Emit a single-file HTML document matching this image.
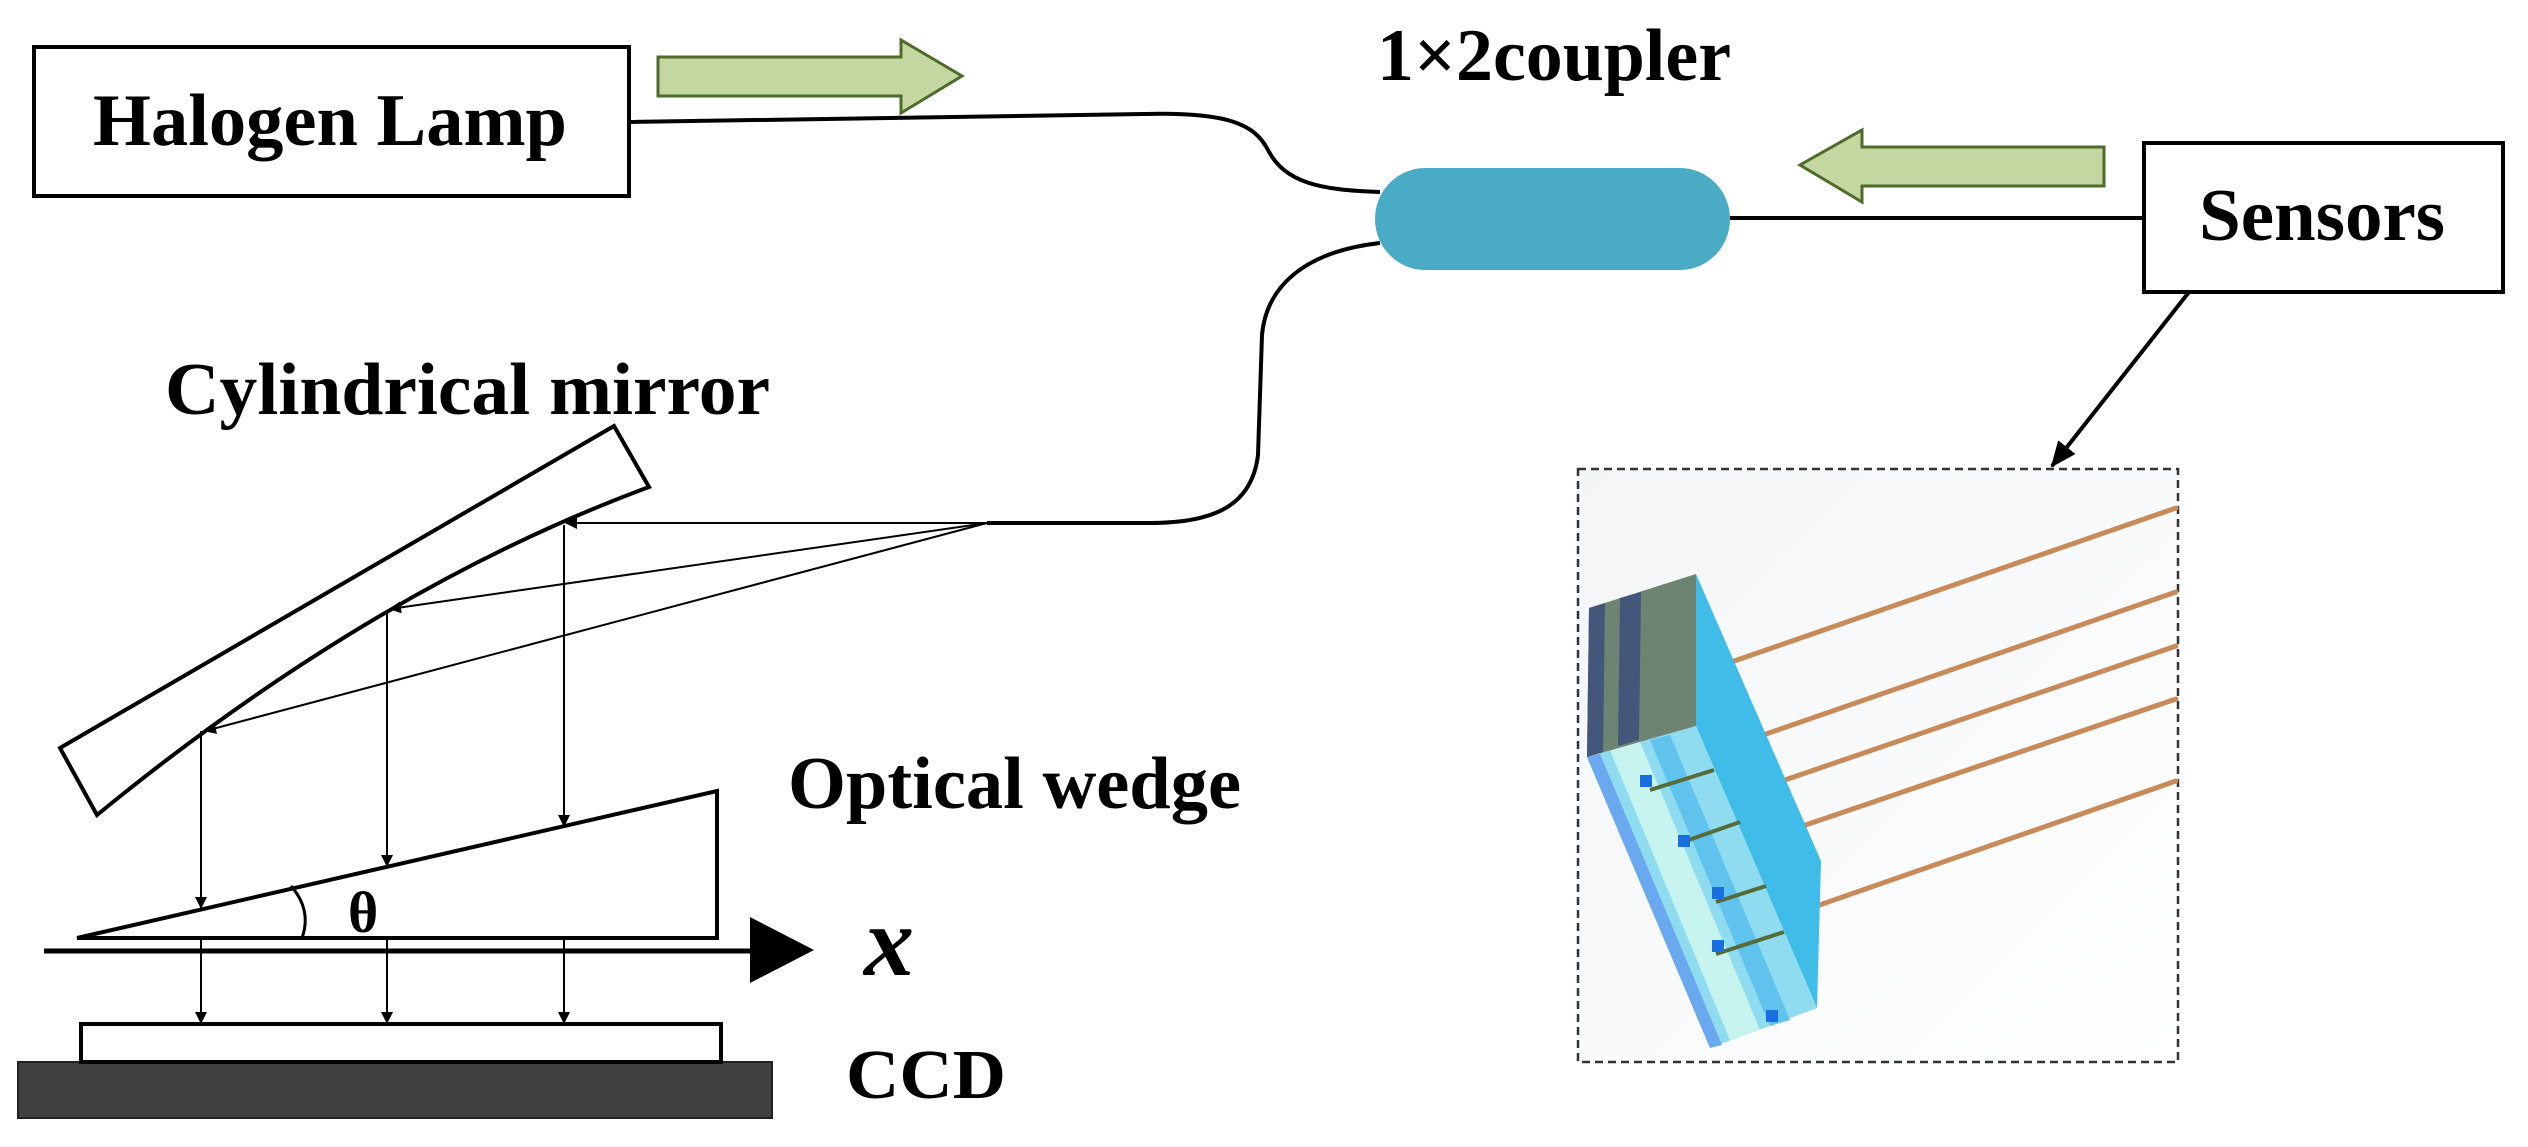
<!DOCTYPE html>
<html><head><meta charset="utf-8"><style>
html,body{margin:0;padding:0;background:#fff;}
svg{display:block;}
text{font-family:"Liberation Serif",serif;font-weight:bold;fill:#000;}
</style></head><body>
<svg width="2528" height="1147" viewBox="0 0 2528 1147" xmlns="http://www.w3.org/2000/svg">
<defs>
<marker id="ah" markerWidth="12" markerHeight="12" refX="11" refY="6" orient="auto" markerUnits="userSpaceOnUse">
<path d="M0,0 L12,6 L0,12 Z" fill="#000"/></marker>
<marker id="ah2" markerWidth="26" markerHeight="22" refX="24" refY="11" orient="auto" markerUnits="userSpaceOnUse">
<path d="M0,0 L26,11 L0,22 Z" fill="#000"/></marker>
<linearGradient id="bg" x1="0" y1="0" x2="1" y2="1"><stop offset="0" stop-color="#f3f5f7"/><stop offset="1" stop-color="#ffffff"/></linearGradient>
</defs>

<rect x="34" y="47" width="595" height="149" fill="#fff" stroke="#000" stroke-width="4"/>
<text x="93" y="145" font-size="74" textLength="474" lengthAdjust="spacingAndGlyphs">Halogen Lamp</text>

<path d="M658,57 L901,57 L901,40 L962,76 L901,113 L901,96 L658,96 Z" fill="#c5d7a1" stroke="#4f6b2a" stroke-width="3"/>
<path d="M2104,147 L1862,147 L1862,130 L1800,165 L1862,202 L1862,186 L2104,186 Z" fill="#c5d7a1" stroke="#4f6b2a" stroke-width="3"/>

<path d="M629,122 L1145,114 C1230,112 1255,125 1268,150 C1285,183 1320,190 1380,192" fill="none" stroke="#000" stroke-width="4"/>
<path d="M1380,243 C1300,252 1266,290 1262,335 L1258,455 C1252,505 1215,523 1150,523 L987,523" fill="none" stroke="#000" stroke-width="4"/>
<line x1="1730" y1="218" x2="2144" y2="218" stroke="#000" stroke-width="4"/>

<rect x="1375" y="168" width="355" height="102" rx="50" ry="51" fill="#4aabc5"/>
<text x="1377" y="80" font-size="74" textLength="354" lengthAdjust="spacingAndGlyphs">1×2coupler</text>

<rect x="2144" y="143" width="359" height="149" fill="#fff" stroke="#000" stroke-width="4"/>
<text x="2199" y="240" font-size="74" textLength="246" lengthAdjust="spacingAndGlyphs">Sensors</text>
<line x1="2189" y1="292" x2="2052" y2="466" stroke="#000" stroke-width="4" marker-end="url(#ah2)"/>

<rect x="1578" y="469" width="600" height="593" fill="url(#bg)" stroke="#333" stroke-width="2.5" stroke-dasharray="8,5"/>
<g stroke="#c98a5a" stroke-width="5" stroke-linecap="round">
<line x1="1714" y1="668" x2="2176" y2="508"/>
<line x1="1714" y1="752" x2="2176" y2="592"/>
<line x1="1750" y1="792" x2="2176" y2="646"/>
<line x1="1785" y1="832" x2="2176" y2="699"/>
<line x1="1785" y1="917" x2="2176" y2="781"/>
</g>
<polygon points="1696,574 1821,861 1817,1008 1696,726" fill="#3fbde8"/>
<polygon points="1587,757 1696,726 1817,1008 1710,1048" fill="#8fdcf0"/>
<polygon points="1587,757 1600,754 1722,1045 1710,1048" fill="#6aa8f0"/>
<polygon points="1610,750 1640,742 1760,1030 1730,1040" fill="#c8f4f0"/>
<polygon points="1650,740 1670,735 1790,1020 1770,1026" fill="#5fc3ee"/>
<polygon points="1589,608 1696,574 1696,726 1587,757" fill="#6e8472"/>
<polygon points="1589,608 1605,603 1603,752 1587,757" fill="#44567a"/>
<polygon points="1620,598 1641,592 1639,740 1618,746" fill="#44567a"/>
<g stroke="#556b3a" stroke-width="4">
<line x1="1650" y1="790" x2="1714" y2="770"/><line x1="1683" y1="842" x2="1740" y2="822"/>
<line x1="1716" y1="902" x2="1766" y2="886"/><line x1="1716" y1="954" x2="1784" y2="932"/>
</g>
<g fill="#1a6fe0"><rect x="1640" y="775" width="12" height="12"/><rect x="1678" y="835" width="12" height="12"/><rect x="1712" y="887" width="12" height="12"/><rect x="1712" y="940" width="12" height="12"/><rect x="1766" y="1010" width="12" height="12"/></g>

<text x="165" y="414" font-size="74" textLength="605" lengthAdjust="spacingAndGlyphs">Cylindrical mirror</text>
<path d="M60,748 L614,426 L649,487 Q373,589 97,815 Z" fill="#fff" stroke="#000" stroke-width="4" stroke-linejoin="miter"/>

<g stroke="#000" stroke-width="2" fill="none">
<line x1="987" y1="523" x2="566" y2="523" marker-end="url(#ah)"/>
<line x1="987" y1="523" x2="390" y2="609" marker-end="url(#ah)"/>
<line x1="987" y1="523" x2="205" y2="731" marker-end="url(#ah)"/>
<line x1="564" y1="525" x2="564" y2="826" marker-end="url(#ah)"/>
<line x1="387" y1="611" x2="387" y2="866" marker-end="url(#ah)"/>
<line x1="201" y1="731" x2="201" y2="908" marker-end="url(#ah)"/>
<line x1="564" y1="938" x2="564" y2="1023" marker-end="url(#ah)"/>
<line x1="387" y1="938" x2="387" y2="1023" marker-end="url(#ah)"/>
<line x1="201" y1="938" x2="201" y2="1023" marker-end="url(#ah)"/>
</g>

<polygon points="77,938 717,938 717,791" fill="#fff" stroke="#000" stroke-width="4"/>
<path d="M291,886 Q312,910 302,938" fill="none" stroke="#000" stroke-width="3"/>
<text x="348" y="932" font-size="58" font-weight="normal">θ</text>
<text x="788" y="808" font-size="74" textLength="453" lengthAdjust="spacingAndGlyphs">Optical wedge</text>

<line x1="44" y1="951" x2="760" y2="951" stroke="#000" stroke-width="5"/>
<polygon points="750,917 814,950 750,983" fill="#000"/>
<text x="864" y="975" font-size="100" font-style="italic">x</text>

<rect x="18" y="1062" width="754" height="56" fill="#404040" stroke="#222" stroke-width="2"/>
<rect x="81" y="1024" width="640" height="38" fill="#fff" stroke="#000" stroke-width="4"/>
<text x="846" y="1098" font-size="70" textLength="160" lengthAdjust="spacingAndGlyphs">CCD</text>
</svg>
</body></html>
